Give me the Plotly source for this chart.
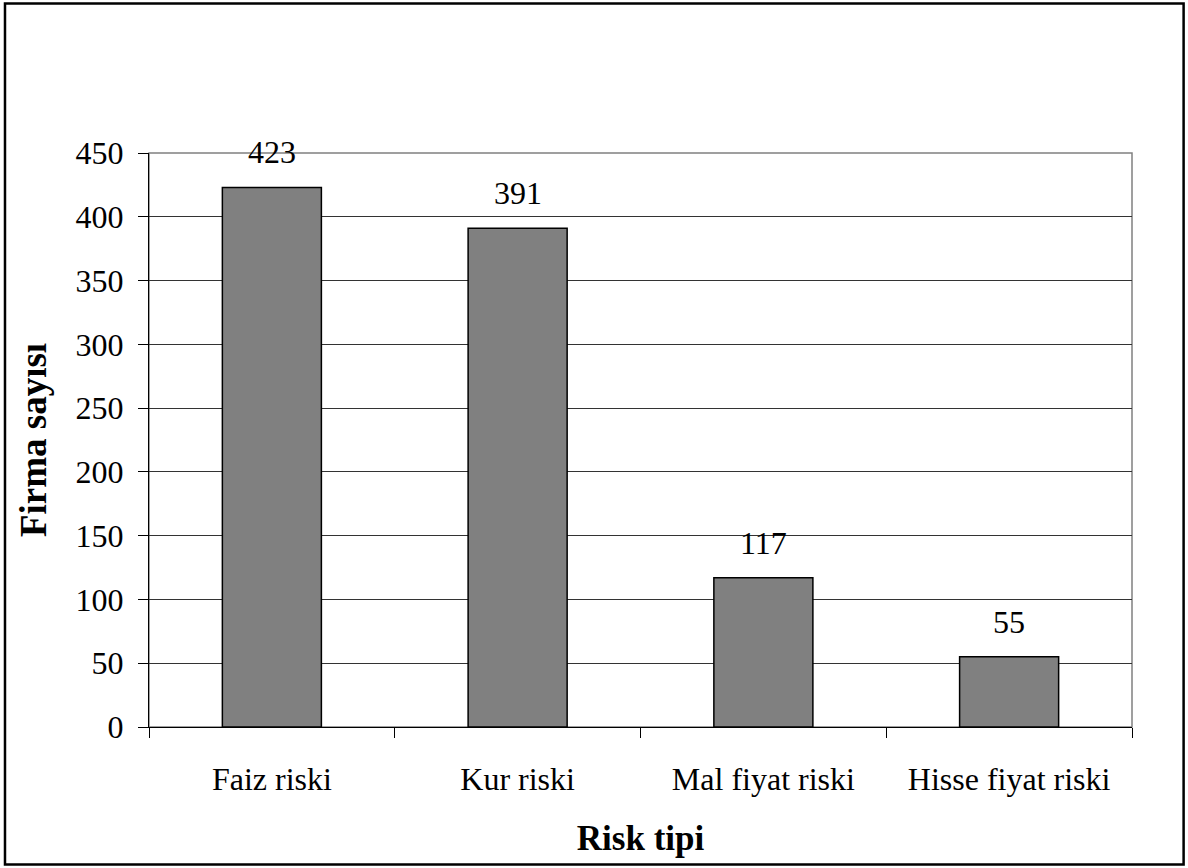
import plotly.graph_objects as go

# Number of firms by risk type
risk_types = ["Faiz riski", "Kur riski", "Mal fiyat riski", "Hisse fiyat riski"]
firm_counts = [423, 391, 117, 55]
y_ticks = [0, 50, 100, 150, 200, 250, 300, 350, 400, 450]

SERIF = "Liberation Serif, Times New Roman, serif"

fig = go.Figure()
fig.add_trace(go.Bar(
    x=risk_types,
    y=firm_counts,
    marker=dict(color="#808080", line=dict(color="#000000", width=1.5)),
    showlegend=False,
    hoverinfo="x+y",
))

# value labels above bars
for cat, val in zip(risk_types, firm_counts):
    fig.add_annotation(
        x=cat, y=val, text=str(val), showarrow=False,
        yanchor="bottom", yshift=15,
        font=dict(family=SERIF, size=32, color="#000000"),
    )

# plot-area frame (grey) and outer chart border (black)
fig.add_shape(type="rect", xref="paper", yref="paper", x0=0, y0=0, x1=1, y1=1,
              line=dict(color="#808080", width=1.5), layer="below")
fig.add_shape(type="rect", xref="paper", yref="paper",
              x0=-0.1465, y0=-0.2395, x1=1.0525, y1=1.2605,
              line=dict(color="#000000", width=2.5), layer="above")

fig.update_layout(
    width=1188, height=868,
    margin=dict(l=149, r=56, t=153, b=141),
    paper_bgcolor="#ffffff", plot_bgcolor="#ffffff",
    bargap=0.597,
    font=dict(family=SERIF, size=32, color="#000000"),
    xaxis=dict(
        type="category",
        tickson="boundaries",
        ticks="outside", ticklen=10, tickcolor="#000000", tickwidth=1,
        showline=True, linecolor="#000000", linewidth=1,
        showgrid=False,
        tickfont=dict(family=SERIF, size=32, color="#000000"),
        ticklabelstandoff=24,
        title=dict(text="<b>Risk tipi</b>", standoff=29,
                   font=dict(family=SERIF, size=35, color="#000000")),
    ),
    yaxis=dict(
        range=[0, 450],
        tickvals=y_ticks,
        ticks="outside", ticklen=10, tickcolor="#000000", tickwidth=1,
        showline=True, linecolor="#000000", linewidth=1,
        showgrid=True, gridcolor="#333333", gridwidth=1,
        zeroline=False,
        tickfont=dict(family=SERIF, size=32, color="#000000"),
        ticklabelstandoff=8,
        title=dict(text="<b>Firma sayısı</b>", standoff=17,
                   font=dict(family=SERIF, size=37, color="#000000")),
    ),
)

fig.write_html("out.html")
